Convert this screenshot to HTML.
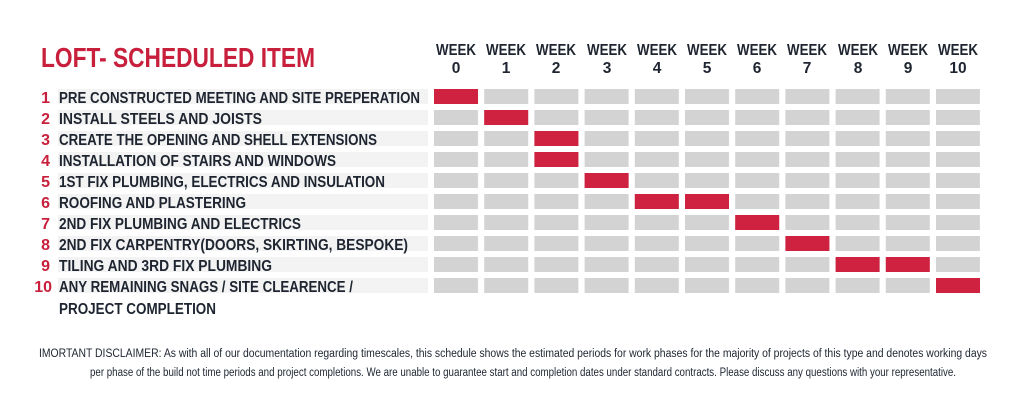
<!DOCTYPE html>
<html><head><meta charset="utf-8"><style>
html,body{margin:0;padding:0;background:#fff;}
svg{display:block}
text{font-family:"Liberation Sans",sans-serif;font-weight:bold}
</style></head><body>
<svg width="1024" height="403" viewBox="0 0 1024 403" xmlns="http://www.w3.org/2000/svg">
<defs>
<pattern id="cells" x="434" y="89" width="50.2" height="21" patternUnits="userSpaceOnUse">
<rect x="0" y="0" width="44" height="15" fill="#d3d3d3"/>
</pattern>
</defs>
<rect width="1024" height="403" fill="#fff"/>
<text x="41" y="67" font-size="28" fill="#c8203c" textLength="274" lengthAdjust="spacingAndGlyphs">LOFT- SCHEDULED ITEM</text>
<g font-size="15.5" fill="#1e2530" text-anchor="middle">
<text x="456" y="55" textLength="40" lengthAdjust="spacingAndGlyphs">WEEK</text><text x="456" y="73">0</text>
<text x="506" y="55" textLength="40" lengthAdjust="spacingAndGlyphs">WEEK</text><text x="506" y="73">1</text>
<text x="556" y="55" textLength="40" lengthAdjust="spacingAndGlyphs">WEEK</text><text x="556" y="73">2</text>
<text x="607" y="55" textLength="40" lengthAdjust="spacingAndGlyphs">WEEK</text><text x="607" y="73">3</text>
<text x="657" y="55" textLength="40" lengthAdjust="spacingAndGlyphs">WEEK</text><text x="657" y="73">4</text>
<text x="707" y="55" textLength="40" lengthAdjust="spacingAndGlyphs">WEEK</text><text x="707" y="73">5</text>
<text x="757" y="55" textLength="40" lengthAdjust="spacingAndGlyphs">WEEK</text><text x="757" y="73">6</text>
<text x="807" y="55" textLength="40" lengthAdjust="spacingAndGlyphs">WEEK</text><text x="807" y="73">7</text>
<text x="858" y="55" textLength="40" lengthAdjust="spacingAndGlyphs">WEEK</text><text x="858" y="73">8</text>
<text x="908" y="55" textLength="40" lengthAdjust="spacingAndGlyphs">WEEK</text><text x="908" y="73">9</text>
<text x="958" y="55" textLength="40" lengthAdjust="spacingAndGlyphs">WEEK</text><text x="958" y="73">10</text>
</g>
<rect x="434" y="89" width="546" height="210" fill="url(#cells)"/>
<g fill="#cf2240">
<rect x="434" y="89" width="44" height="15"/>
<rect x="484.2" y="110" width="44" height="15"/>
<rect x="534.4" y="131" width="44" height="15"/>
<rect x="534.4" y="152" width="44" height="15"/>
<rect x="584.6" y="173" width="44" height="15"/>
<rect x="634.8" y="194" width="44" height="15"/>
<rect x="685" y="194" width="44" height="15"/>
<rect x="735.2" y="215" width="44" height="15"/>
<rect x="785.4" y="236" width="44" height="15"/>
<rect x="835.6" y="257" width="44" height="15"/>
<rect x="885.8" y="257" width="44" height="15"/>
<rect x="936" y="278" width="44" height="15"/>
</g>
<g fill="#f3f3f3">
<rect x="58" y="89" width="370" height="15"/><rect x="58" y="110" width="370" height="15"/><rect x="58" y="131" width="370" height="15"/><rect x="58" y="152" width="370" height="15"/><rect x="58" y="173" width="370" height="15"/><rect x="58" y="194" width="370" height="15"/><rect x="58" y="215" width="370" height="15"/><rect x="58" y="236" width="370" height="15"/><rect x="58" y="257" width="370" height="15"/><rect x="58" y="278" width="370" height="15"/>
</g>
<g font-size="16" fill="#c8203c" text-anchor="end">
<text x="50" y="103">1</text><text x="50" y="124">2</text><text x="50" y="145">3</text><text x="50" y="166">4</text><text x="50" y="187">5</text><text x="50" y="208">6</text><text x="50" y="229">7</text><text x="50" y="250">8</text><text x="50" y="271">9</text><text x="52" y="292">10</text>
</g>
<g font-size="16" fill="#1e2530">
<text x="59" y="103" textLength="361" lengthAdjust="spacingAndGlyphs">PRE CONSTRUCTED MEETING AND SITE PREPERATION</text>
<text x="59" y="124" textLength="203" lengthAdjust="spacingAndGlyphs">INSTALL STEELS AND JOISTS</text>
<text x="59" y="145" textLength="318" lengthAdjust="spacingAndGlyphs">CREATE THE OPENING AND SHELL EXTENSIONS</text>
<text x="59" y="166" textLength="277" lengthAdjust="spacingAndGlyphs">INSTALLATION OF STAIRS AND WINDOWS</text>
<text x="59" y="187" textLength="326" lengthAdjust="spacingAndGlyphs">1ST FIX PLUMBING, ELECTRICS AND INSULATION</text>
<text x="59" y="208" textLength="187" lengthAdjust="spacingAndGlyphs">ROOFING AND PLASTERING</text>
<text x="59" y="229" textLength="242" lengthAdjust="spacingAndGlyphs">2ND FIX PLUMBING AND ELECTRICS</text>
<text x="59" y="250" textLength="349" lengthAdjust="spacingAndGlyphs">2ND FIX CARPENTRY(DOORS, SKIRTING, BESPOKE)</text>
<text x="59" y="271" textLength="213" lengthAdjust="spacingAndGlyphs">TILING AND 3RD FIX PLUMBING</text>
<text x="59" y="292" textLength="294" lengthAdjust="spacingAndGlyphs">ANY REMAINING SNAGS / SITE CLEARENCE /</text>
<text x="59" y="314" textLength="157" lengthAdjust="spacingAndGlyphs">PROJECT COMPLETION</text>
</g>
<g fill="#1e2530" font-size="11.5">
<text x="39" y="357" textLength="948" lengthAdjust="spacingAndGlyphs" style="font-weight:normal">IMORTANT DISCLAIMER: As with all of our documentation regarding timescales, this schedule shows the estimated periods for work phases for the majority of projects of this type and denotes working days</text>
<text x="90" y="376" textLength="866" lengthAdjust="spacingAndGlyphs" style="font-weight:normal">per phase of the build not time periods and project completions. We are unable to guarantee start and completion dates under standard contracts. Please discuss any questions with your representative.</text>
</g>
</svg>
</body></html>
